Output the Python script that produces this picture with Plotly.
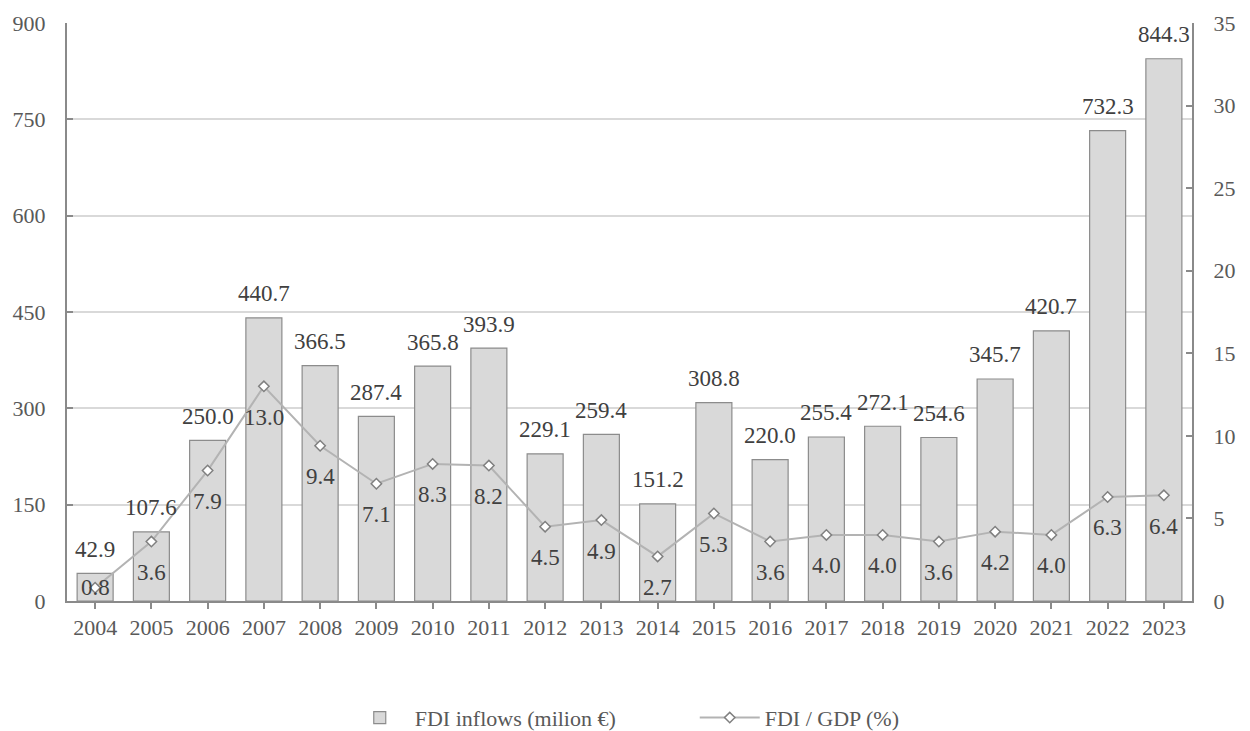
import plotly.graph_objects as go

years = [str(y) for y in range(2004, 2024)]
fdi_inflows = [42.9, 107.6, 250.0, 440.7, 366.5, 287.4, 365.8, 393.9, 229.1, 259.4,
               151.2, 308.8, 220.0, 255.4, 272.1, 254.6, 345.7, 420.7, 732.3, 844.3]
fdi_gdp = [0.8, 3.6, 7.9, 13.0, 9.4, 7.1, 8.3, 8.2, 4.5, 4.9,
           2.7, 5.3, 3.6, 4.0, 4.0, 3.6, 4.2, 4.0, 6.3, 6.4]

FONT = "Liberation Serif, Times New Roman, serif"
AXIS_COL = "#8a8a8a"
TICK_COL = "#595959"
LABEL_COL = "#404040"

fig = go.Figure()
fig.add_trace(go.Bar(
    x=years, y=fdi_inflows, name="FDI inflows (milion €)",
    marker=dict(color="#d9d9d9", line=dict(color="#8c8c8c", width=1.2)),
    yaxis="y",
))
fig.add_trace(go.Scatter(
    x=years, y=fdi_gdp, name="FDI / GDP (%)", mode="lines+markers",
    line=dict(color="#b3b3b3", width=2),
    marker=dict(symbol="diamond", size=8, color="white",
                line=dict(color="#808080", width=1.5)),
    yaxis="y2",
))

annotations = []
for i, v in enumerate(fdi_inflows):
    annotations.append(dict(x=i, y=v, xref="x", yref="y", text=f"{v:.1f}",
                            showarrow=False, yshift=24,
                            font=dict(family=FONT, size=23, color=LABEL_COL)))
for i, v in enumerate(fdi_gdp):
    annotations.append(dict(x=i, y=v, xref="x", yref="y2", text=f"{v:.1f}",
                            showarrow=False, yshift=(0 if i == 0 else -31),
                            font=dict(family=FONT, size=23, color=LABEL_COL)))

fig.update_layout(
    width=1250, height=731,
    margin=dict(l=59, r=66, t=15, b=138, autoexpand=False),
    paper_bgcolor="white", plot_bgcolor="white",
    font=dict(family=FONT, size=22, color=TICK_COL),
    bargap=0.36,
    showlegend=True,
    legend=dict(orientation="h", x=0.558, xanchor="center", y=-0.202, yanchor="middle",
                font=dict(family=FONT, size=22, color=TICK_COL),
                entrywidth=275, itemwidth=60),
    xaxis=dict(type="category", showline=True, linecolor=AXIS_COL, linewidth=2,
               ticks="outside", ticklen=6, tickcolor=AXIS_COL, tickwidth=1.5,
               showgrid=False, tickfont=dict(family=FONT, size=22, color=TICK_COL),
               range=[-0.5, 19.5]),
    yaxis=dict(range=[0, 900], dtick=150, showline=True, linecolor=AXIS_COL, linewidth=2,
               ticks="inside", ticklen=6, tickcolor=AXIS_COL, tickwidth=1.5,
               showgrid=True, gridcolor="#d9d9d9", gridwidth=1.5, zeroline=False,
               tickfont=dict(family=FONT, size=22, color=TICK_COL), ticklabelstandoff=15),
    yaxis2=dict(range=[0, 35], dtick=5, overlaying="y", side="right", showline=True,
                linecolor=AXIS_COL, linewidth=2, ticks="inside", ticklen=6,
                tickcolor=AXIS_COL, tickwidth=1.5, showgrid=False, zeroline=False,
                tickfont=dict(family=FONT, size=22, color=TICK_COL), ticklabelstandoff=15),
    annotations=annotations,
)

fig.write_html("out.html")
